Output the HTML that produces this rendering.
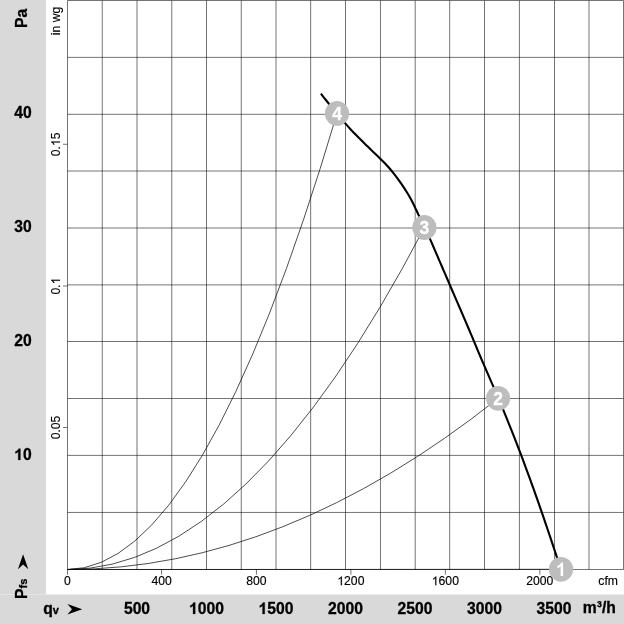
<!DOCTYPE html><html><head><meta charset="utf-8"><style>html,body{margin:0;padding:0;background:#fff}svg{display:block}text{font-family:"Liberation Sans",sans-serif;fill:#000}.b{font-weight:bold;font-size:15.7px;stroke:#000;stroke-width:0.3px}.w{stroke:#fff}.n{font-size:12.2px;stroke:#000;stroke-width:0.15px}</style></head><body>
<svg width="624" height="624" viewBox="0 0 624 624" style="will-change:transform;opacity:0.999">
<rect width="624" height="624" fill="#fff"/>
<rect x="0" y="0" width="46" height="594.5" fill="#d9d9d9"/>
<rect x="0" y="594.5" width="624" height="30" fill="#d9d9d9"/>
<path d="M67.50 0.50 V569.50 M102.25 0.50 V569.50 M137.00 0.50 V569.50 M171.75 0.50 V569.50 M206.50 0.50 V569.50 M241.25 0.50 V569.50 M276.00 0.50 V569.50 M310.65 0.50 V569.50 M345.50 0.50 V569.50 M380.45 0.50 V569.50 M415.20 0.50 V569.50 M449.70 0.50 V569.50 M484.50 0.50 V569.50 M519.40 0.50 V569.50 M554.50 0.50 V569.50 M589.00 0.50 V569.50 M623.50 0.50 V569.50 M67.50 0.50 H623.50 M67.50 57.40 H623.50 M67.50 114.30 H623.50 M67.50 171.00 H623.50 M67.50 228.00 H623.50 M67.50 284.90 H623.50 M67.50 341.50 H623.50 M67.50 398.50 H623.50 M67.50 455.40 H623.50 M67.50 512.45 H623.50 M67.50 569.50 H623.50" stroke="#000" stroke-width="0.55" fill="none"/>
<path d="M67.50 569.50 V574.70 M161.60 569.50 V574.70 M256.43 569.50 V574.70 M350.89 569.50 V574.70 M445.36 569.50 V574.70 M539.82 569.50 V574.70 M63.00 427.50 H67.50 M63.00 286.00 H67.50 M63.00 144.30 H67.50" stroke="#000" stroke-width="0.55" fill="none"/>
<text class="n" x="67.50" y="585.20" text-anchor="middle">0</text>
<text class="n" x="161.60" y="585.20" text-anchor="middle">400</text>
<text class="n" x="256.43" y="585.20" text-anchor="middle">800</text>
<text class="n" x="350.89" y="585.20" text-anchor="middle"><tspan style="fill:none;stroke:none">1</tspan>200</text>
<path transform="translate(337.325 585.20) scale(0.005957 -0.005957)" d="M763 0H583V1147Q518 1085 412.5 1023Q307 961 223 930V1104Q374 1175 487 1276Q600 1377 647 1472H763Z" fill="#000" stroke="#000" stroke-width="25.2"/>
<text class="n" x="445.36" y="585.20" text-anchor="middle"><tspan style="fill:none;stroke:none">1</tspan>600</text>
<path transform="translate(431.790 585.20) scale(0.005957 -0.005957)" d="M763 0H583V1147Q518 1085 412.5 1023Q307 961 223 930V1104Q374 1175 487 1276Q600 1377 647 1472H763Z" fill="#000" stroke="#000" stroke-width="25.2"/>
<text class="n" x="539.82" y="585.20" text-anchor="middle">2000</text>
<text class="n" transform="translate(60.00 427.50) rotate(-90)" text-anchor="middle">0.05</text>
<text class="n" transform="translate(60.00 286.00) rotate(-90)" text-anchor="middle">0.<tspan style="fill:none;stroke:none">1</tspan></text>
<path transform="translate(60.00 286.00) rotate(-90) translate(1.695 0) scale(0.005957 -0.005957)" d="M763 0H583V1147Q518 1085 412.5 1023Q307 961 223 930V1104Q374 1175 487 1276Q600 1377 647 1472H763Z" fill="#000" stroke="#000" stroke-width="25.2"/>
<text class="n" transform="translate(60.00 144.30) rotate(-90)" text-anchor="middle">0.<tspan style="fill:none;stroke:none">1</tspan>5</text>
<path transform="translate(60.00 144.30) rotate(-90) translate(-1.698 0) scale(0.005957 -0.005957)" d="M763 0H583V1147Q518 1085 412.5 1023Q307 961 223 930V1104Q374 1175 487 1276Q600 1377 647 1472H763Z" fill="#000" stroke="#000" stroke-width="25.2"/>
<text class="n" transform="translate(60 35.2) rotate(-90)">in wg</text>
<text class="n" x="598.3" y="585.2">cfm</text>
<text class="b" x="22.95" y="459.95" text-anchor="middle"><tspan style="fill:none;stroke:none">1</tspan>0</text>
<path transform="translate(14.218 459.95) scale(0.007666 -0.007666)" d="M806 0H525V1059Q371 915 162 846V1101Q272 1137 401 1237.5Q530 1338 578 1472H806Z" fill="#000" stroke="#000" stroke-width="39.1"/>
<text class="b" x="22.95" y="346.00" text-anchor="middle">20</text>
<text class="b" x="22.95" y="232.00" text-anchor="middle">30</text>
<text class="b" x="22.95" y="118.05" text-anchor="middle">40</text>
<text class="b" transform="translate(27.3 28.0) rotate(-90)">Pa</text>
<text class="b" transform="translate(27.4 598.9) rotate(-90)">P<tspan font-size="11">fs</tspan></text>
<path d="M23.1 554.3 L28.3 569.2 L23.1 564.5 L17.9 569.2 Z" fill="#000"/>
<text class="b" x="137.00" y="613.90" text-anchor="middle">500</text>
<text class="b" x="206.50" y="613.90" text-anchor="middle"><tspan style="fill:none;stroke:none">1</tspan>000</text>
<path transform="translate(189.037 613.90) scale(0.007666 -0.007666)" d="M806 0H525V1059Q371 915 162 846V1101Q272 1137 401 1237.5Q530 1338 578 1472H806Z" fill="#000" stroke="#000" stroke-width="39.1"/>
<text class="b" x="276.00" y="613.90" text-anchor="middle"><tspan style="fill:none;stroke:none">1</tspan>500</text>
<path transform="translate(258.537 613.90) scale(0.007666 -0.007666)" d="M806 0H525V1059Q371 915 162 846V1101Q272 1137 401 1237.5Q530 1338 578 1472H806Z" fill="#000" stroke="#000" stroke-width="39.1"/>
<text class="b" x="345.50" y="613.90" text-anchor="middle">2000</text>
<text class="b" x="415.00" y="613.90" text-anchor="middle">2500</text>
<text class="b" x="484.50" y="613.90" text-anchor="middle">3000</text>
<text class="b" x="554.00" y="613.90" text-anchor="middle">3500</text>
<text class="b" x="43.2" y="613.8">q<tspan font-size="11" dy="0.5">v</tspan></text>
<path d="M82.2 609.2 L67.4 603.9 L72.0 609.2 L67.4 614.5 Z" fill="#000"/>
<text class="b" x="582.70" y="613.45">m</text>
<text class="b" transform="translate(596.66 613.35) scale(1 1.1)" style="stroke-width:0.1px">³</text>
<text class="b" x="601.89" y="613.45">/h</text>
<path d="M67.50 569.50 Q314.25 569.50 561.00 569.30" stroke="#000" stroke-width="0.7" fill="none"/>
<path d="M67.50 569.50 Q282.82 569.50 498.15 398.35" stroke="#000" stroke-width="0.7" fill="none"/>
<path d="M67.50 569.50 Q245.95 569.50 424.40 227.50" stroke="#000" stroke-width="0.7" fill="none"/>
<path d="M67.50 569.50 Q202.25 569.50 337.00 113.40" stroke="#000" stroke-width="0.7" fill="none"/>
<path d="M320.90 93.70 C321.70 94.71 324.08 97.73 325.69 99.75 C327.30 101.77 328.92 103.80 330.56 105.83 C332.19 107.86 333.84 109.89 335.51 111.91 C337.17 113.93 338.85 115.95 340.54 117.95 C342.24 119.95 343.95 121.94 345.69 123.90 C347.42 125.86 349.17 127.81 350.94 129.72 C352.71 131.63 354.50 133.51 356.32 135.36 C358.13 137.22 359.97 139.03 361.83 140.86 C363.68 142.69 365.56 144.49 367.46 146.33 C369.37 148.18 371.31 150.08 373.24 151.94 C375.16 153.81 377.15 155.72 379.04 157.55 C380.94 159.38 382.83 161.12 384.61 162.94 C386.38 164.75 388.03 166.54 389.67 168.44 C391.31 170.34 392.87 172.32 394.44 174.34 C396.01 176.36 397.57 178.46 399.09 180.58 C400.61 182.70 402.12 184.87 403.58 187.06 C405.03 189.24 406.47 191.46 407.81 193.70 C409.16 195.94 410.45 198.20 411.65 200.48 C412.84 202.76 413.89 205.05 415.00 207.36 C416.10 209.67 417.14 212.00 418.28 214.34 C419.42 216.67 420.67 219.02 421.84 221.37 C423.02 223.73 424.20 226.09 425.32 228.45 C426.43 230.82 427.48 233.19 428.53 235.56 C429.59 237.93 430.61 240.31 431.65 242.69 C432.68 245.07 433.71 247.45 434.74 249.83 C435.76 252.21 436.79 254.60 437.82 256.99 C438.85 259.38 439.87 261.77 440.90 264.16 C441.93 266.55 442.95 268.94 443.98 271.33 C445.01 273.72 446.04 276.12 447.07 278.51 C448.10 280.91 449.13 283.30 450.16 285.69 C451.19 288.09 452.22 290.48 453.26 292.87 C454.29 295.27 455.33 297.66 456.36 300.05 C457.40 302.44 458.43 304.84 459.47 307.23 C460.50 309.62 461.54 312.01 462.57 314.41 C463.60 316.80 464.62 319.19 465.65 321.59 C466.67 323.98 467.69 326.37 468.70 328.76 C469.72 331.16 470.72 333.55 471.73 335.95 C472.73 338.34 473.73 340.73 474.73 343.13 C475.73 345.52 476.72 347.92 477.73 350.31 C478.73 352.71 479.74 355.11 480.76 357.50 C481.77 359.90 482.80 362.30 483.83 364.69 C484.86 367.09 485.91 369.49 486.95 371.89 C488.00 374.29 489.05 376.69 490.10 379.09 C491.15 381.49 492.20 383.89 493.25 386.30 C494.29 388.70 495.33 391.10 496.36 393.51 C497.39 395.91 498.41 398.32 499.42 400.72 C500.44 403.13 501.44 405.54 502.44 407.95 C503.44 410.36 504.43 412.77 505.41 415.18 C506.40 417.59 507.37 420.00 508.34 422.42 C509.32 424.83 510.28 427.25 511.24 429.66 C512.20 432.08 513.16 434.50 514.11 436.92 C515.06 439.34 516.00 441.76 516.94 444.18 C517.88 446.60 518.81 449.03 519.73 451.45 C520.66 453.88 521.58 456.31 522.50 458.74 C523.41 461.17 524.32 463.60 525.22 466.03 C526.13 468.47 527.03 470.90 527.92 473.34 C528.81 475.77 529.70 478.21 530.59 480.65 C531.47 483.09 532.35 485.54 533.23 487.98 C534.10 490.43 534.97 492.87 535.84 495.32 C536.71 497.77 537.57 500.23 538.43 502.68 C539.29 505.13 540.14 507.59 541.00 510.05 C541.85 512.51 542.70 514.97 543.54 517.43 C544.39 519.89 545.23 522.36 546.07 524.83 C546.91 527.30 547.75 529.77 548.58 532.24 C549.41 534.71 550.25 537.19 551.07 539.67 C551.90 542.15 552.73 544.63 553.56 547.11 C554.38 549.60 555.21 552.08 556.03 554.57 C556.85 557.06 557.67 559.55 558.49 562.05 C559.31 564.55 560.53 568.30 560.94 569.55" stroke="#000" stroke-width="2.1" fill="none" stroke-linejoin="round"/>
<ellipse cx="561.00" cy="569.30" rx="12.1" ry="12.4" fill="#bdbdbd"/>
<path transform="translate(555.94 576.00) scale(0.008887 -0.009131)" fill="#fff" d="M806 0H525V1059Q371 915 162 846V1101Q272 1137 401 1237.5Q530 1338 578 1472H806Z"/>
<ellipse cx="498.15" cy="398.35" rx="12.1" ry="12.4" fill="#bdbdbd"/>
<text class="b w" transform="translate(498.15 404.75) scale(1 1.07)" text-anchor="middle" style="fill:#fff;font-size:17.5px;stroke-width:0.3px">2</text>
<ellipse cx="424.40" cy="227.50" rx="12.1" ry="12.4" fill="#bdbdbd"/>
<text class="b w" transform="translate(424.40 233.90) scale(1 1.07)" text-anchor="middle" style="fill:#fff;font-size:17.5px;stroke-width:0.3px">3</text>
<ellipse cx="337.00" cy="113.40" rx="12.1" ry="12.4" fill="#bdbdbd"/>
<text class="b w" transform="translate(337.00 119.80) scale(1 1.07)" text-anchor="middle" style="fill:#fff;font-size:17.5px;stroke-width:0.3px">4</text>
</svg></body></html>
